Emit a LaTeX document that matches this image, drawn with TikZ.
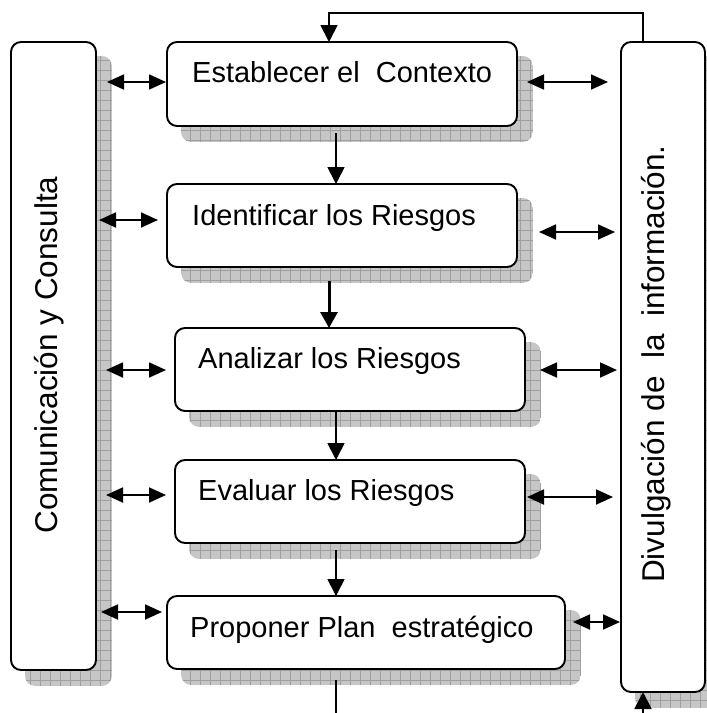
\documentclass[tikz,border=0pt]{standalone}
\usepackage{fontspec}
\setmainfont{Liberation Sans}
\usetikzlibrary{arrows.meta,backgrounds}
\tikzset{
  box/.style={draw, line width=1.9pt, rounded corners=10pt, fill=white, inner sep=0pt},
  txt/.style={inner sep=0pt, font=\fontsize{29}{34}\selectfont},
  vtxt/.style={inner sep=0pt, rotate=90, font=\fontsize{31.5}{36}\selectfont},
  arr/.style={line width=1.8pt, -{Triangle[length=17pt,width=17pt]}},
  thickarr/.style={line width=3pt, -{Triangle[length=16pt,width=17pt]}},
  dbl/.style={line width=1.8pt, {Triangle[length=17pt,width=15pt]}-{Triangle[length=17pt,width=15pt]}},
  plain/.style={line width=1.8pt},
  shadowfill/.style={fill=gray!45},
  shadowgrid/.style={draw=gray!75, line width=0.45pt}
}
\begin{document}
\begin{tikzpicture}[x=1pt,y=-1pt]
\useasboundingbox (0,0) rectangle (707,713);
\clip (0,0) rectangle (707,713);
% boxes
\node[box, minimum width=85pt, minimum height=628pt] (L) at (53.5,356) {};
\node[box, minimum width=84pt, minimum height=650pt] (R) at (663,367) {};
\node[box, minimum width=350pt, minimum height=84pt] (b1) at (342,84) {};
\node[box, minimum width=350pt, minimum height=83pt] (b2) at (342,225.5) {};
\node[box, minimum width=350pt, minimum height=83pt] (b3) at (350,369.5) {};
\node[box, minimum width=350pt, minimum height=83pt] (b4) at (350,501.5) {};
\node[box, minimum width=398pt, minimum height=73pt] (b5) at (366,632.5) {};
% shadows
\begin{scope}[on background layer]
\foreach \n in {L,R,b1,b2,b3,b4,b5}{
  \begin{scope}
    \clip[rounded corners=10pt] ([shift={(15pt,-15pt)}]\n.south west) rectangle ([shift={(15pt,-15pt)}]\n.north east);
    \path[shadowfill] ([shift={(15pt,-15pt)}]\n.south west) rectangle ([shift={(15pt,-15pt)}]\n.north east);
    \draw[shadowgrid, step=10pt] ([shift={(15pt,-15pt)}]\n.south west) grid ([shift={(15pt,-15pt)}]\n.north east);
  \end{scope}
}
\end{scope}
% texts
\node[txt, anchor=base west] (t1) at (192,82) {Establecer el\ \ Contexto};
\node[txt, anchor=base west] (t2) at (192,225) {Identificar los Riesgos};
\node[txt, anchor=base west] (t3) at (198,368) {Analizar los Riesgos};
\node[txt, anchor=base west] (t4) at (198,500) {Evaluar los Riesgos};
\node[txt, anchor=base west] (t5) at (190,637) {Proponer Plan\ \ estratégico};
\node[vtxt, anchor=base] (tl) at (57,355) {Comunicación y Consulta};
\node[vtxt, anchor=base] (tr) at (664,364) {Divulgación de\ \ la\ \ información.};
% coordinates for connector ends
\coordinate (l1a) at (107,82);  \coordinate (l1b) at (166,82);
\coordinate (l2a) at (99,220);  \coordinate (l2b) at (158,220);
\coordinate (l3a) at (106,370); \coordinate (l3b) at (166,370);
\coordinate (l4a) at (106,495); \coordinate (l4b) at (166,495);
\coordinate (l5a) at (101,612); \coordinate (l5b) at (162,612);
\coordinate (r1a) at (527,82);  \coordinate (r1b) at (608,82);
\coordinate (r2a) at (539,232); \coordinate (r2b) at (615,232);
\coordinate (r3a) at (540,370); \coordinate (r3b) at (617,370);
\coordinate (r4a) at (527,497); \coordinate (r4b) at (613,497);
\coordinate (r5a) at (573,622); \coordinate (r5b) at (620,622);
\coordinate (v1a) at (336,133); \coordinate (v1b) at (336,184);
\coordinate (v2a) at (329,281); \coordinate (v2b) at (329,328);
\coordinate (v3a) at (336,411); \coordinate (v3b) at (336,460);
\coordinate (v4a) at (336,550); \coordinate (v4b) at (336,596);
\coordinate (v5a) at (336,680); \coordinate (v5b) at (336,713);
\coordinate (fbR) at (643,42);  \coordinate (fbT) at (329,13); \coordinate (fbB) at (329,42);
\coordinate (bot) at (643,713); \coordinate (botT) at (643,692);
% connectors
\foreach \i in {1,...,5}{
  \draw[dbl] (l\i a) -- (l\i b);
  \draw[dbl] (r\i a) -- (r\i b);
}
\draw[arr] (v1a) -- (v1b);
\draw[thickarr] (v2a) -- (v2b);
\draw[arr] (v3a) -- (v3b);
\draw[arr] (v4a) -- (v4b);
\draw[plain] (v5a) -- (v5b);
\draw[arr] (fbR) |- (fbT) -- (fbB);
\draw[arr] (bot) -- (botT);
\end{tikzpicture}
\end{document}
